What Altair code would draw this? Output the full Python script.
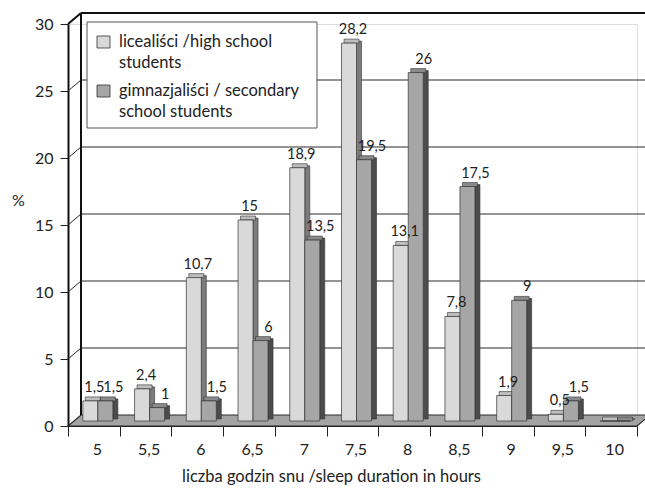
import altair as alt
import pandas as pd

# Sleep duration (hours) and share of pupils (%) in each group
hours = ["5", "5,5", "6", "6,5", "7", "7,5", "8", "8,5", "9", "9,5", "10"]
high_school = [1.5, 2.4, 10.7, 15, 18.9, 28.2, 13.1, 7.8, 1.9, 0.5, 0]
secondary_school = [1.5, 1, 1.5, 6, 13.5, 19.5, 26, 17.5, 9, 1.5, 0]
series_names = ["licealiści /high school\nstudents",
                "gimnazjaliści / secondary\nschool students"]
y_ticks = [0, 5, 10, 15, 20, 25, 30]
x_title = "liczba godzin snu /sleep duration in hours"
y_title = "%"

FONT = "Lato"
TEXT = "#222222"
W, H = 569, 402          # plot area
Y_MAX = 30
WALL_DX, WALL_DY = 13, 11  # depth of the back wall / floor (px)
BAR_W = 15
BAR_DX, BAR_DY = 5, 4      # depth of each 3-D bar (px)
BASE = -5                  # bars stand in the middle of the floor

wall_depth = WALL_DY * Y_MAX / H   # floor depth expressed in value units

y_scale = alt.Scale(domain=[0, Y_MAX], nice=False, zero=False)
band = alt.Scale(domain=hours, paddingInner=0, paddingOuter=0)

x_axis = alt.Axis(
    title=x_title, labelAngle=0, tickBand="extent", tickSize=10, tickColor="#222222",
    domainColor="#222222", domainWidth=1.2, labelPadding=5, labelOffset=3,
    labelFontSize=16, labelColor=TEXT, labelFont=FONT,
    titleFont=FONT, titleFontSize=16.5, titleFontWeight="normal", titleColor=TEXT,
    titleX=263, titleY=50, titleAlign="center", titleBaseline="middle",
)
y_axis = alt.Axis(
    title=y_title, values=y_ticks, grid=False, tickSize=8, tickColor="#222222",
    domainColor="#111111", domainWidth=2, labelPadding=7,
    labelFontSize=16, labelColor=TEXT, labelFont=FONT,
    titleFont=FONT, titleFontSize=16, titleFontWeight="normal", titleColor=TEXT,
    titleAngle=0, titleX=-50, titleY=176, titleAlign="center", titleBaseline="middle",
)


def xband():
    return alt.X("hours:N", scale=band, sort=None, axis=x_axis)


def yval(field="value"):
    return alt.Y(f"{field}:Q", scale=y_scale, axis=y_axis)


one_row = pd.DataFrame({"a": [0]})

# ---- floor (parallelogram under the bars) ----
floor_df = pd.DataFrame({
    "px": [0, WALL_DX, W, W + WALL_DX],
    "top": [0, wall_depth, wall_depth, wall_depth],
    "bot": [0, 0, 0, wall_depth],
})
floor = alt.Chart(floor_df).mark_area(
    fill="#a3a3a3", stroke="#2a2a2a", strokeWidth=1.2, clip=False
).encode(
    x=alt.X("px:Q", scale=alt.Scale(domain=[0, W], nice=False, zero=False), axis=None),
    y=yval("top"),
    y2="bot:Q",
)

# ---- back wall: grid lines, connectors to the axis, frame edges ----
grid_df = pd.DataFrame({"v": [t for t in y_ticks if t > 0]})
wall_grid = alt.Chart(grid_df).mark_rule(
    color="#2a2a2a", strokeWidth=1, yOffset=-WALL_DY
).encode(x=alt.value(WALL_DX), x2=alt.value(W + WALL_DX + 20), y=yval("v"))
wall_diag = alt.Chart(grid_df).mark_rule(
    color="#2a2a2a", strokeWidth=1, y2Offset=-WALL_DY
).encode(x=alt.value(0), x2=alt.value(WALL_DX), y=yval("v"), y2="v:Q")
edge_df = pd.DataFrame({"top": [Y_MAX], "bot": [0]})
wall_left = alt.Chart(edge_df).mark_rule(
    color="#111111", strokeWidth=2, yOffset=-WALL_DY, y2Offset=-WALL_DY
).encode(x=alt.value(WALL_DX), y=yval("top"), y2="bot:Q")
wall_top = alt.Chart(edge_df).mark_rule(
    color="#111111", strokeWidth=2.2, yOffset=-WALL_DY
).encode(x=alt.value(WALL_DX), x2=alt.value(W + WALL_DX + 20), y=yval("top"))
wall_top_diag = alt.Chart(edge_df).mark_rule(
    color="#111111", strokeWidth=2, y2Offset=-WALL_DY
).encode(x=alt.value(0), x2=alt.value(WALL_DX), y=yval("top"), y2="top:Q")

# ---- 3-D bars ----
styles = [
    dict(values=high_school, front="#d9d9d9", top="#bdbdbd", side="#7c7c7c",
         off=-3.5, label_dx=4),
    dict(values=secondary_school, front="#a6a6a6", top="#8a8a8a", side="#4c4c4c",
         off=11.5, label_dx=8),
]

bar_layers = []
label_layers = []
for s in styles:
    df = pd.DataFrame({"hours": hours, "value": s["values"]})
    base = alt.Chart(df)
    off = s["off"]
    side = base.mark_bar(
        width=BAR_DX, xOffset=off + BAR_W / 2 + BAR_DX / 2,
        yOffset=BASE - BAR_DY / 2, y2Offset=BASE - BAR_DY / 2,
        fill=s["side"], stroke="#333333", strokeWidth=0.6,
    ).encode(x=xband(), y=yval(), y2=alt.datum(0))
    top = base.mark_bar(
        width=BAR_W, xOffset=off + BAR_DX / 2,
        yOffset=BASE - BAR_DY, y2Offset=BASE,
        fill=s["top"], stroke="#333333", strokeWidth=0.6,
    ).encode(x=xband(), y=yval(), y2="value:Q")
    front = base.mark_bar(
        width=BAR_W, xOffset=off, yOffset=BASE, y2Offset=BASE,
        fill=s["front"], stroke="#333333", strokeWidth=0.7,
    ).encode(x=xband(), y=yval(), y2=alt.datum(0))
    bar_layers += [side, top, front]
    label_layers.append(
        base.transform_filter("datum.value > 0")
        .transform_calculate(label="replace(toString(datum.value), '.', ',')")
        .mark_text(xOffset=off + s["label_dx"], yOffset=BASE, dy=-9,
                   baseline="alphabetic", fontSize=14.5, font=FONT, color=TEXT)
        .encode(x=xband(), y=yval(), text="label:N")
    )

# ---- legend box ----
legend_layers = [
    alt.Chart(one_row).mark_rect(fill="white", stroke="#555555", strokeWidth=1).encode(
        x=alt.value(19), x2=alt.value(249), y=alt.value(-2), y2=alt.value(104))
]
for s, name, y0 in zip(styles, series_names, [12, 61]):
    legend_layers.append(
        alt.Chart(one_row).mark_rect(fill=s["front"], stroke="#333333", strokeWidth=0.8)
        .encode(x=alt.value(29), x2=alt.value(42), y=alt.value(y0), y2=alt.value(y0 + 12))
    )
    legend_layers.append(
        alt.Chart(one_row).mark_text(
            text=name, lineBreak="\n", lineHeight=20.5, align="left", baseline="top",
            fontSize=16.5, font=FONT, color=TEXT,
        ).encode(x=alt.value(51), y=alt.value(y0 - 2))
    )

bars = alt.layer(wall_grid, wall_diag, wall_left, wall_top, wall_top_diag,
                 *bar_layers, *label_layers, *legend_layers)

chart = alt.layer(floor, bars).resolve_scale(x="independent").properties(
    width=W, height=H,
    autosize=alt.AutoSizeParams(type="none"),
    padding={"left": 68, "top": 24, "right": 8, "bottom": 68},
).configure_view(stroke=None).configure(font=FONT, background="white")

chart.save("out.html", embed_options={"renderer": "svg", "actions": False})
